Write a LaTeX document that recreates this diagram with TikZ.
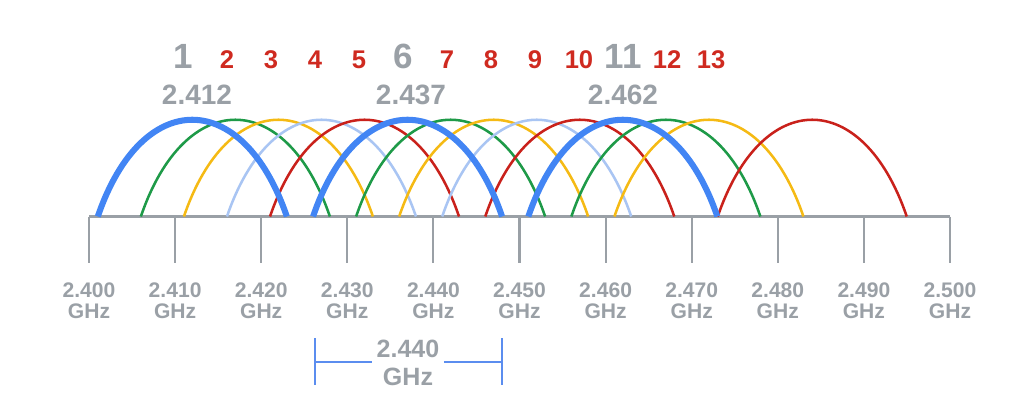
\documentclass[tikz,border=0pt]{standalone}
\usepackage{fontspec}
\setmainfont{Liberation Sans}
\usetikzlibrary{positioning}

\definecolor{gblue}{HTML}{4285F4}
\definecolor{ggreen}{HTML}{1E9A48}
\definecolor{gyellow}{HTML}{F5BA14}
\definecolor{glight}{HTML}{A9C5F3}
\definecolor{gred}{HTML}{C9211B}
\definecolor{ggray}{HTML}{9AA0A6}
\definecolor{lred}{HTML}{CF2A20}
\definecolor{bline}{HTML}{5B8DEF}

\tikzset{
  chan/.style={line width=1.8pt},
  wide/.style={line width=4.3pt, gblue},
  axisline/.style={line width=1.5pt, ggray},
  brk/.style={line width=1.3pt, bline},
  chbig/.style={ggray, anchor=base, inner sep=0pt, font=\bfseries\fontsize{24.9}{26}\selectfont},
  chsmall/.style={lred, anchor=base, inner sep=0pt, font=\bfseries\fontsize{18.2}{19}\selectfont},
  flabel/.style={ggray, anchor=base, inner sep=0pt, font=\bfseries\fontsize{19.9}{21}\selectfont},
  ticklab/.style={ggray, anchor=base, inner sep=0pt, font=\bfseries\fontsize{15}{16}\selectfont},
  brklab/.style={ggray, anchor=base, inner sep=3pt, font=\bfseries\fontsize{17.8}{19}\selectfont}
}

\begin{document}
\begin{tikzpicture}[x=0.025cm, y=-0.025cm]
\useasboundingbox (0,0) rectangle (1015,420);

% axis and ticks
\coordinate (axL) at (89,216.5);
\coordinate (axR) at (950,216.5);
\draw[axisline] (axL) -- (axR);
\foreach \i/\t in {0/2.400,1/2.410,2/2.420,3/2.430,4/2.440,5/2.450,6/2.460,7/2.470,8/2.480,9/2.490,10/2.500}{
  \coordinate (t\i) at ({89+86.1*\i},216.5);
  \coordinate (tb\i) at ({89+86.1*\i},263);
  \draw[axisline] (t\i) -- (tb\i);
  \node[ticklab] (l\i) at ({89+86.1*\i},297) {\t};
  \node[ticklab] (g\i) at ({89+86.1*\i},318) {GHz};
}

% channel arcs
\foreach \ch/\m/\col in {2/17/ggreen,3/22/gyellow,4/27/glight,5/32/gred,
                         7/42/ggreen,8/47/gyellow,9/52/glight,10/57/gred,
                         12/67/ggreen,13/72/gyellow,14/84/gred}{
  \coordinate (s\ch) at ({89+8.61*\m-94.5},216.5);
  \coordinate (e\ch) at ({89+8.61*\m+94.5},216.5);
  \draw[chan,\col] (s\ch) .. controls +(44,-129) and +(-44,-129) .. (e\ch);
}
\foreach \ch/\m in {1/12,6/37,11/62}{
  \coordinate (s\ch) at ({89+8.61*\m-94.5},216.5);
  \coordinate (e\ch) at ({89+8.61*\m+94.5},216.5);
  \draw[wide] (s\ch) .. controls +(44,-129) and +(-44,-129) .. (e\ch);
}

% channel numbers
\foreach \n in {1,6,11}
  \node[chbig] (n\n) at ({183+44*(\n-1)},69) {\n};
\foreach \n in {2,3,4,5,7,8,9,10,12,13}
  \node[chsmall] (n\n) at ({183+44*(\n-1)},69) {\n};

% centre frequencies
\node[flabel] (f1) at (197,105) {2.412};
\node[flabel] (f6) at (411,105) {2.437};
\node[flabel] (f11) at (623,105) {2.462};

% channel width bracket
\node[brklab] (bnum) at (408,357) {2.440};
\node[brklab] (bghz) at (408,385) {GHz};
\coordinate (bLt) at (315,338);
\coordinate (bLb) at (315,385);
\coordinate (bRt) at (502,338);
\coordinate (bRb) at (502,385);
\coordinate (bL) at (315,362);
\coordinate (bR) at (502,362);
\draw[brk] (bLt) -- (bLb);
\draw[brk] (bRt) -- (bRb);
\draw[brk] (bL) -- (bnum.west |- bL);
\draw[brk] (bnum.east |- bR) -- (bR);

\end{tikzpicture}
\end{document}
